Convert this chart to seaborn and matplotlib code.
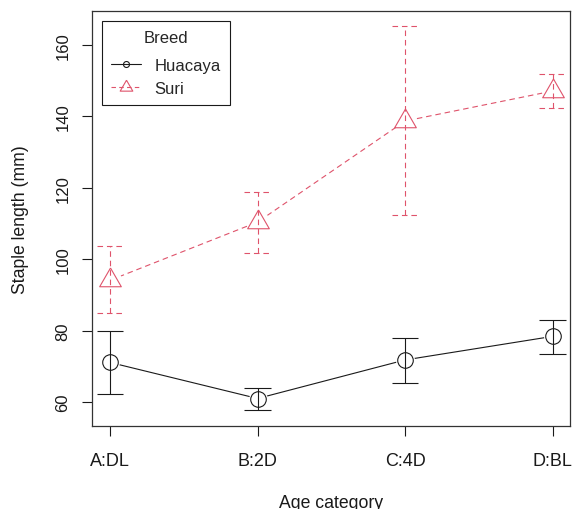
import numpy as np
import pandas as pd
import matplotlib
matplotlib.use("Agg")
import matplotlib.pyplot as plt
from matplotlib.lines import Line2D
import seaborn as sns

categories = ["A:DL", "B:2D", "C:4D", "D:BL"]
breeds = ["Huacaya", "Suri"]
huacaya_mean = [71.1, 61.0, 71.8, 78.4]
huacaya_lo = [62.2, 57.8, 65.2, 73.6]
huacaya_hi = [79.9, 63.9, 77.9, 83.0]
suri_mean = [94.1, 110.4, 138.7, 147.1]
suri_lo = [84.9, 101.7, 112.4, 142.3]
suri_hi = [103.8, 118.8, 165.3, 152.0]

colors = {"Huacaya": "#1a1a1a", "Suri": "#DF536B"}
dash = (5, 3.5)

sns.set_theme(style="white")
plt.rcParams["font.family"] = ["Liberation Sans", "DejaVu Sans"]

df = pd.DataFrame({
    "Age category": categories * 2,
    "Staple length (mm)": huacaya_mean + suri_mean,
    "Breed": ["Huacaya"] * 4 + ["Suri"] * 4,
})

fig = plt.figure(figsize=(5.74, 5.10), dpi=100)
ax = fig.add_axes([92 / 574, 1 - 427 / 510, (570 - 92) / 574, (427 - 12) / 510])

sns.lineplot(data=df, x="Age category", y="Staple length (mm)", hue="Breed",
             style="Breed", palette=colors, dashes={"Huacaya": "", "Suri": dash},
             linewidth=0.8, legend=False, ax=ax, zorder=1)

tri = [(0, 1), (-0.866, -0.5), (0.866, -0.5), (0, 1)]
xpos = np.arange(len(categories))
series = {
    "Huacaya": (huacaya_mean, huacaya_lo, huacaya_hi, "o", 11.2, 12.6, "-"),
    "Suri": (suri_mean, suri_lo, suri_hi, tri, 18.0, 15.5, (0, dash)),
}
for b in breeds:
    m, lo, hi, mk, ms, halo, ls = series[b]
    c = colors[b]
    # gap around points (R type="b")
    ax.plot(xpos, m, linestyle="none", marker="o", markersize=halo,
            markerfacecolor="white", markeredgecolor="white", zorder=2)
    ax.vlines(xpos, lo, hi, colors=c, linewidth=0.8, linestyles=[ls], zorder=3)
    ax.hlines(lo, xpos - 0.09, xpos + 0.09, colors=c, linewidth=0.8, linestyles=[ls], zorder=3)
    ax.hlines(hi, xpos - 0.09, xpos + 0.09, colors=c, linewidth=0.8, linestyles=[ls], zorder=3)
    ax.plot(xpos, m, linestyle="none", marker=mk, markersize=ms,
            markerfacecolor="none", markeredgecolor=c, markeredgewidth=0.8, zorder=4)

ax.set_xlim(-0.122, 3.117)
ax.set_ylim(53.3, 169.5)
ax.set_yticks([60, 80, 100, 120, 140, 160])
ax.set_xticks(xpos)
ax.set_xticklabels(categories)
for lab in ax.get_yticklabels():
    lab.set_rotation(90)
    lab.set_va("center")
ax.tick_params(axis="y", direction="out", length=7, width=0.8, pad=8.5,
               labelsize=12, colors="#1a1a1a", left=True)
ax.tick_params(axis="x", direction="out", length=7.5, width=0.8, pad=11,
               labelsize=13, colors="#1a1a1a", bottom=True)
for s in ax.spines.values():
    s.set_color("#333333")
    s.set_linewidth(0.9)
ax.grid(False)
ax.set_xlabel("Age category", fontsize=12.7, color="#1a1a1a")
ax.set_ylabel("Staple length (mm)", fontsize=12.7, color="#1a1a1a")
ax.xaxis.set_label_coords(0.5, (427 - 495) / 415)
ax.yaxis.set_label_coords((29 - 92) / 478, 0.5)

handles = [
    Line2D([], [], color=colors["Huacaya"], linewidth=0.8, marker="o", markersize=4.3,
           markerfacecolor="none", markeredgewidth=0.8),
    Line2D([], [], color=colors["Suri"], linewidth=0.8, linestyle=(0, (4, 3)), marker=tri,
           markersize=10.5, markerfacecolor="none", markeredgewidth=0.8),
]
leg = ax.legend(handles, breeds, title="Breed", loc="upper left",
                bbox_to_anchor=(10 / 478, 1 - 10 / 415), borderaxespad=0,
                fancybox=False, framealpha=1, edgecolor="#1a1a1a", fontsize=12,
                title_fontsize=12, handlelength=1.8, handletextpad=0.8,
                labelspacing=0.5, borderpad=0.55)
leg.get_frame().set_linewidth(0.8)
leg._legend_box.sep = 9

fig.savefig("out.png", dpi=100)
